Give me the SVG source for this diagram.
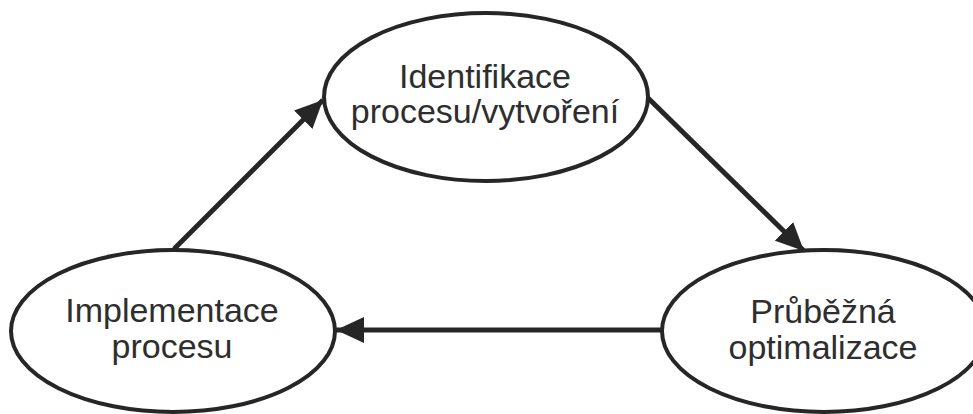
<svg xmlns="http://www.w3.org/2000/svg" width="973" height="414" viewBox="0 0 973 414">
<defs>
<marker id="ah" markerUnits="userSpaceOnUse" markerWidth="30" markerHeight="26" refX="28" refY="13" orient="auto">
<path d="M0,0 L28,13 L0,26 Z" fill="#262626"/>
</marker>
<style>
.node ellipse{fill:#fff;stroke:#262626;stroke-width:4}
.node text{font-family:"Liberation Sans",Arial,sans-serif;font-size:34px;fill:#2e2e2e;text-anchor:middle}
.edge{stroke:#262626;stroke-width:5;fill:none;marker-end:url(#ah)}
</style>
</defs>
<rect width="973" height="414" fill="#fff"/>
<g id="connectors">
<line class="edge" x1="174" y1="249" x2="323" y2="100"/>
<line class="edge" x1="647" y1="97" x2="804" y2="251"/>
<line class="edge" x1="662" y1="330" x2="336" y2="330"/>
</g>
<g id="n1" class="node">
<ellipse cx="486" cy="97" rx="162" ry="84"/>
<text x="485" y="88">Identifikace</text>
<text x="485" y="123">procesu/vytvoření</text>
</g>
<g id="n2" class="node">
<ellipse cx="824" cy="331" rx="162" ry="81"/>
<text x="823" y="323">Průběžná</text>
<text x="823" y="359">optimalizace</text>
</g>
<g id="n3" class="node">
<ellipse cx="173" cy="331" rx="162" ry="81"/>
<text x="172" y="322">Implementace</text>
<text x="172" y="358">procesu</text>
</g>
</svg>
